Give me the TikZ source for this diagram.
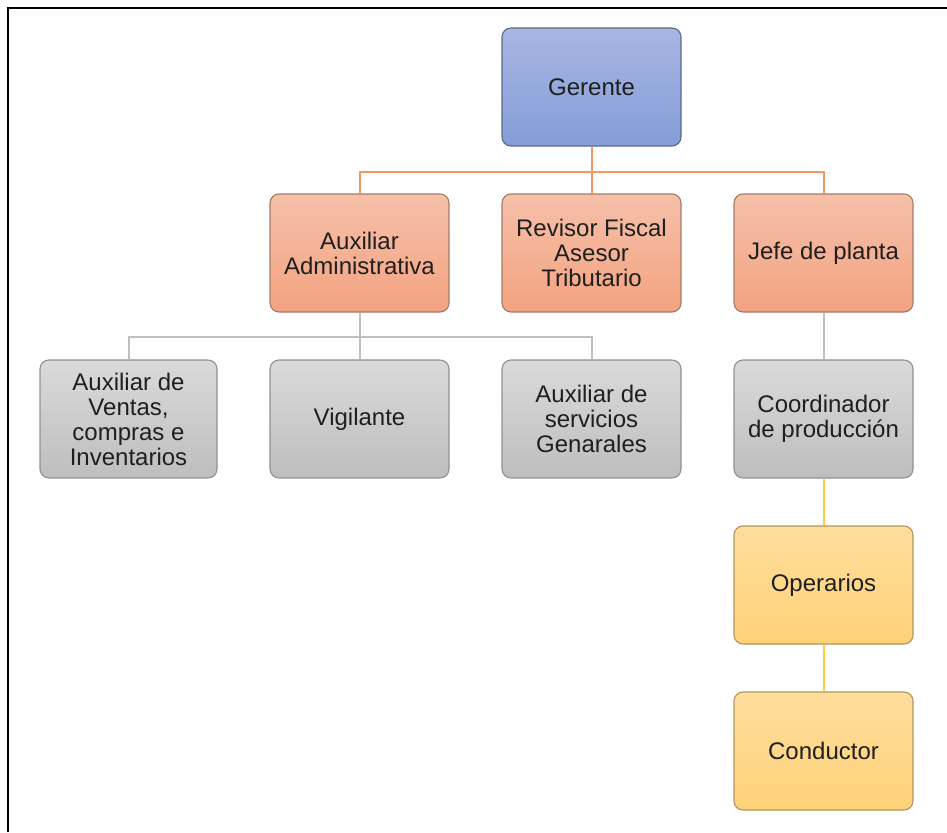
\documentclass[tikz,border=0pt]{standalone}
\usepackage{fontspec}
\setmainfont{Liberation Sans}
\definecolor{bluetop}{RGB}{168,182,226}
\definecolor{bluebot}{RGB}{132,157,216}
\definecolor{blueline}{RGB}{95,105,135}
\definecolor{orangetop}{RGB}{246,192,170}
\definecolor{orangebot}{RGB}{243,163,128}
\definecolor{orangeline}{RGB}{168,122,102}
\definecolor{graytop}{RGB}{218,218,218}
\definecolor{graybot}{RGB}{190,190,190}
\definecolor{grayline}{RGB}{145,145,145}
\definecolor{yellowtop}{RGB}{255,221,156}
\definecolor{yellowbot}{RGB}{255,210,120}
\definecolor{yellowline}{RGB}{175,150,95}
\definecolor{linkO}{RGB}{247,150,95}
\definecolor{linkG}{RGB}{192,192,192}
\definecolor{linkY}{RGB}{255,205,65}
\begin{document}
\begin{tikzpicture}[x=1pt, y=-1pt,
    box/.style={draw, rounded corners=9pt, line width=1.1pt, minimum width=179pt,
        minimum height=118pt, align=center, font=\fontsize{24}{25}\selectfont,
        text=black!88},
    bluebox/.style={box, draw=blueline, top color=bluetop, bottom color=bluebot},
    orangebox/.style={box, draw=orangeline, top color=orangetop, bottom color=orangebot},
    graybox/.style={box, draw=grayline, top color=graytop, bottom color=graybot},
    yellowbox/.style={box, draw=yellowline, top color=yellowtop, bottom color=yellowbot},
    linkorange/.style={color=linkO, line width=2pt},
    linkgray/.style={color=linkG, line width=2pt},
    linkyellow/.style={color=linkY, line width=2pt}]
    \useasboundingbox (0,0) rectangle (947,832);
    \draw[line width=2.5pt] (8,832) -- (8,8) -- (947,8);

    % nivel 1
    \node[bluebox] (ger) at (591.5,87) {Gerente};

    % nivel 2
    \node[orangebox] (aux) at (359.5,253) {Auxiliar\\Administrativa};
    \node[orangebox] (rev) at (591.5,253) {Revisor Fiscal\\Asesor\\Tributario};
    \node[orangebox] (jefe) at (823.5,253) {Jefe de planta};

    % nivel 3
    \node[graybox, minimum width=177pt] (ventas) at (128.5,419) {Auxiliar de\\Ventas,\\compras e\\Inventarios};
    \node[graybox] (vig) at (359.5,419) {Vigilante};
    \node[graybox] (serv) at (591.5,419) {Auxiliar de\\servicios\\Genarales};
    \node[graybox] (coord) at (823.5,419) {Coordinador\\de producción};

    % produccion
    \node[yellowbox] (oper) at (823.5,585) {Operarios};
    \node[yellowbox] (cond) at (823.5,751) {Conductor};

    % conectores
    \draw[linkorange] (ger.south) -- ++(0,25) coordinate (b1);
    \draw[linkorange] (b1) -| (aux.north);
    \draw[linkorange] (b1) -| (jefe.north);
    \draw[linkorange] (b1) -- (rev.north);

    \draw[linkgray] (aux.south) -- ++(0,24) coordinate (b2);
    \draw[linkgray] (b2) -| (ventas.north);
    \draw[linkgray] (b2) -| (serv.north);
    \draw[linkgray] (b2) -- (vig.north);
    \draw[linkgray] (jefe) -- (coord);

    \draw[linkyellow] (coord) -- (oper);
    \draw[linkyellow] (oper) -- (cond);
\end{tikzpicture}
\end{document}
